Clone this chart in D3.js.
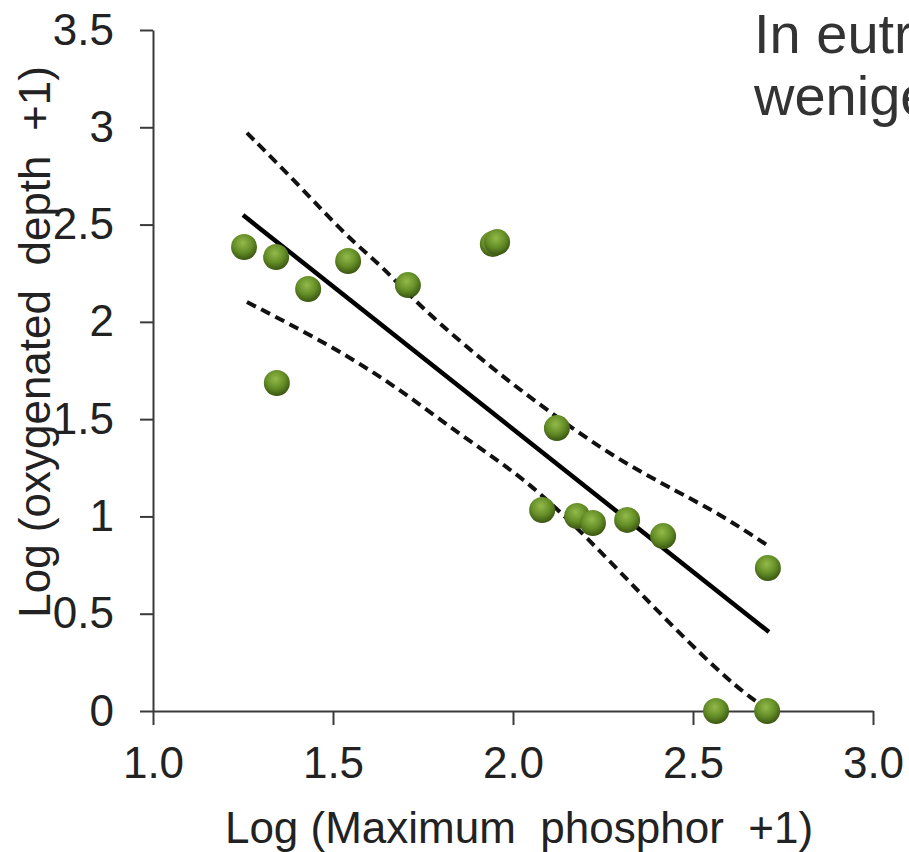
<!DOCTYPE html>
<html>
<head>
<meta charset="utf-8">
<script src="https://cdn.jsdelivr.net/npm/d3@7"></script>
<style>
  body { margin: 0; background: #fff; overflow: hidden; }
  svg { display: block; font-family: Arial, "Liberation Sans", sans-serif; }
</style>
</head>
<body>
<div class="chart"></div>
<script>
const width = 909;
const height = 852;

// lakes: log(max phosphor +1) vs log(oxygenated depth +1)
const phosphor = [1.253, 1.342, 1.344, 1.431, 1.542, 1.708, 1.944, 1.956, 2.122, 2.081, 2.178, 2.222, 2.317, 2.417, 2.708, 2.564, 2.706];
const depth    = [2.385, 2.333, 1.686, 2.169, 2.313, 2.189, 2.40, 2.41, 1.454, 1.033, 1.002, 0.966, 0.982, 0.899, 0.735, 0, 0];

// fitted line and confidence band
const fitX = [1.25, 2.711];
const fitY = [2.549, 0.406];
const upperX = [1.261, 1.400, 1.539, 1.639, 1.742, 1.936, 2.094, 2.278, 2.464, 2.575, 2.667, 2.714];
const upperY = [2.971, 2.714, 2.436, 2.282, 2.077, 1.768, 1.547, 1.305, 1.120, 1.010, 0.900, 0.843];
const lowerX = [1.261, 1.492, 1.678, 1.861, 2.028, 2.206, 2.389, 2.575, 2.667, 2.706];
const lowerY = [2.102, 1.881, 1.665, 1.408, 1.203, 0.894, 0.535, 0.195, 0.057, 0.015];

const xTicks = [1.0, 1.5, 2.0, 2.5, 3.0];
const yTicks = [0, 0.5, 1, 1.5, 2, 2.5, 3, 3.5];

const titleLines = ["In eutrophen Seen", "weniger Sauerstoff"];

const svg = d3.select(".chart")
  .append("svg")
  .attr("width", width)
  .attr("height", height);

// sphere look for the dots
const grad = svg.append("defs").append("radialGradient")
  .attr("id", "ball")
  .attr("cx", "45%").attr("cy", "35%").attr("r", "65%");
grad.append("stop").attr("offset", "0%").attr("stop-color", "#93b94a");
grad.append("stop").attr("offset", "55%").attr("stop-color", "#658f27");
grad.append("stop").attr("offset", "100%").attr("stop-color", "#3a5512");

const x = d3.scaleLinear().domain([1, 3]).range([153, 873]);
const y = d3.scaleLinear().domain([0, 3.5]).range([711, 30]);

// axes
const xAxis = svg.append("g")
  .attr("transform", `translate(0, ${y(0)})`)
  .call(d3.axisBottom(x).tickValues(xTicks).tickFormat(d3.format(".1f"))
    .tickSize(14).tickSizeOuter(0).tickPadding(22));

const yAxis = svg.append("g")
  .attr("transform", `translate(${x(1)}, 0)`)
  .call(d3.axisLeft(y).tickValues(yTicks).tickFormat(d => String(d))
    .tickSize(13).tickSizeOuter(0).tickPadding(26));

[xAxis, yAxis].forEach(g => {
  g.select(".domain").attr("stroke", "#3a3a3a").attr("stroke-width", 2);
  g.selectAll(".tick line").attr("stroke", "#3a3a3a").attr("stroke-width", 2);
  g.selectAll(".tick text").attr("fill", "#222").style("font-size", "44px")
    .style("font-family", "Arial, 'Liberation Sans', sans-serif");
});

// axis titles
svg.append("text")
  .attr("x", 519)
  .attr("y", 843)
  .attr("text-anchor", "middle")
  .attr("fill", "#222")
  .style("font-size", "44px")
  .attr("xml:space", "preserve")
  .text("Log (Maximum  phosphor  +1)");

svg.append("text")
  .attr("transform", "translate(50, 342) rotate(-90)")
  .attr("text-anchor", "middle")
  .attr("fill", "#222")
  .style("font-size", "44px")
  .attr("xml:space", "preserve")
  .text("Log (oxygenated  depth  +1)");

// title in the corner (runs off the right edge, as in the original)
svg.append("g").selectAll("text")
  .data(titleLines)
  .join("text")
  .attr("x", 754)
  .attr("y", (d, i) => 53 + i * 62)
  .attr("fill", "#333")
  .style("font-size", "56px")
  .text(d => d);

// confidence band
const line = d3.line().x(d => x(d[0])).y(d => y(d[1])).curve(d3.curveBasis);

svg.append("path")
  .attr("d", line(d3.zip(upperX, upperY)))
  .attr("fill", "none")
  .attr("stroke", "#111")
  .attr("stroke-width", 4)
  .attr("stroke-dasharray", "10,6");

svg.append("path")
  .attr("d", line(d3.zip(lowerX, lowerY)))
  .attr("fill", "none")
  .attr("stroke", "#111")
  .attr("stroke-width", 4)
  .attr("stroke-dasharray", "10,6");

// regression line
svg.append("path")
  .attr("d", d3.line().x(d => x(d[0])).y(d => y(d[1]))(d3.zip(fitX, fitY)))
  .attr("fill", "none")
  .attr("stroke", "#000")
  .attr("stroke-width", 4.5);

// dots
svg.append("g")
  .selectAll("circle")
  .data(d3.zip(phosphor, depth))
  .join("circle")
  .attr("cx", d => x(d[0]))
  .attr("cy", d => y(d[1]))
  .attr("r", 13)
  .attr("fill", "url(#ball)");
</script>
</body>
</html>
